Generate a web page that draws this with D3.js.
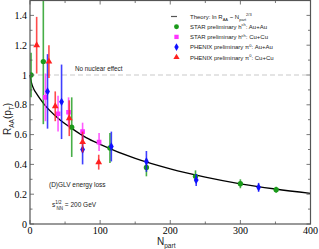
<!DOCTYPE html>
<html>
<head>
<meta charset="utf-8">
<script src="https://cdn.jsdelivr.net/npm/d3@7"></script>
<style>
  body { margin: 0; background: #fff; }
  svg { display: block; }
  .tick-label { font-family: 'Liberation Serif', 'DejaVu Serif', serif; font-size: 10px; fill: #000; }
  .lab { font-family: 'Liberation Sans', Arial, sans-serif; fill: #222; }
</style>
</head>
<body>
<script>
// theory curve: ln R_AA ~ N_part^(2/3)
var theoryN = [0, 2, 5, 10, 20, 40, 60, 80, 100, 150, 200, 250, 300, 350, 400]
var theoryR = [1.0, 0.95, 0.91, 0.87, 0.805, 0.71, 0.64, 0.58, 0.535, 0.44, 0.37, 0.315, 0.27, 0.235, 0.205]

var starAuN = [1.5, 19, 59.5, 114, 166, 236, 300, 351]
var starAuR = [1.0, 1.09, 0.65, 0.51, 0.38, 0.32, 0.27, 0.23]
var starAuE = [0.15, 0.42, 0.2, 0.1, 0.06, 0.04, 0.03, 0.02]

var starCuN = [22, 40, 55, 75, 98.5]
var starCuR = [0.85, 0.74, 0.75, 0.62, 0.55]
var starCuE = [0.16, 0.12, 0.1, 0.06, 0.06]

var phenixAuN = [25, 45, 75, 116, 166, 237, 326]
var phenixAuR = [0.89, 0.82, 0.50, 0.52, 0.42, 0.295, 0.246]
var phenixAuE = [0.25, 0.25, 0.1, 0.1, 0.07, 0.04, 0.03]

var phenixCuN = [9.5, 27, 36, 56, 75, 98]
var phenixCuR = [1.2, 1.09, 0.79, 0.71, 0.55, 0.415]
var phenixCuE = [0.19, 0.11, 0.1, 0.12, 0.07, 0.05]

var xTicks = [0, 100, 200, 300, 400]
var yTicks = [0, 0.2, 0.4, 0.6, 0.8, 1, 1.2, 1.4]

var W = 319
var H = 249
var x = d3.scaleLinear().domain([0, 400]).range([30, 310.5])
var y = d3.scaleLinear().domain([0, 1.5]).range([224, 0.5])

var svg = d3.select('body').append('svg').attr('width', W).attr('height', H)

// no nuclear effect reference line
svg.append('line')
  .attr('x1', x(0)).attr('x2', x(400))
  .attr('y1', y(1)).attr('y2', y(1))
  .style('stroke', '#bbb').style('stroke-width', 0.8)
  .style('stroke-dasharray', '5,3')

svg.append('rect')
  .attr('x', 73).attr('y', 63).attr('width', 62).attr('height', 9)
  .style('fill', '#fff')
svg.append('text').attr('class', 'lab')
  .attr('x', 75).attr('y', 71)
  .style('font-size', '6.3px')
  .text('No nuclear effect')

// theory
var line = d3.line()
  .x(function (d, i) { return x(theoryN[i]) })
  .y(function (d) { return y(d) })
  .curve(d3.curveMonotoneX)
svg.append('path')
  .attr('d', line(theoryR))
  .style('fill', 'none').style('stroke', '#000').style('stroke-width', 1.3)

var sets = [
  { n: starAuN, r: starAuR, e: starAuE, c: '#1a9a1a', sym: d3.symbolCircle, size: 22 },
  { n: starCuN, r: starCuR, e: starCuE, c: '#ff33ff', sym: d3.symbolSquare, size: 22 },
  { n: phenixAuN, r: phenixAuR, e: phenixAuE, c: '#1010ff', sym: d3.symbolDiamond, size: 20 },
  { n: phenixCuN, r: phenixCuR, e: phenixCuE, c: '#ff2020', sym: d3.symbolTriangle, size: 20 }
]

var clip = svg.append('clipPath').attr('id', 'plotclip')
clip.append('rect').attr('x', x(0)).attr('y', y(1.5)).attr('width', x(400) - x(0)).attr('height', y(0) - y(1.5))

sets.forEach(function (s) {
  var g = svg.append('g').attr('clip-path', 'url(#plotclip)')
  s.n.forEach(function (n, i) {
    g.append('line')
      .attr('x1', x(n)).attr('x2', x(n))
      .attr('y1', y(s.r[i] - s.e[i])).attr('y2', y(s.r[i] + s.e[i]))
      .style('stroke', s.c).style('stroke-width', 1.6).style('opacity', 0.8)
  })
  s.n.forEach(function (n, i) {
    g.append('path')
      .attr('d', d3.symbol().type(s.sym).size(s.size)())
      .attr('transform', 'translate(' + x(n) + ',' + y(s.r[i]) + ')')
      .style('fill', s.c)
  })
})

// frame
svg.append('rect')
  .attr('x', x(0)).attr('y', y(1.5))
  .attr('width', x(400) - x(0)).attr('height', y(0) - y(1.5))
  .style('fill', 'none').style('stroke', '#555').style('stroke-width', 1.2)

// ticks, inward on all sides
var xMinor = d3.range(50, 400, 100)
var yMinor = d3.range(0.1, 1.5, 0.2)
var tg = svg.append('g').style('stroke', '#555').style('stroke-width', 0.8)
xTicks.concat(xMinor).forEach(function (t) {
  var len = xTicks.indexOf(t) >= 0 ? 4 : 2.5
  tg.append('line').attr('x1', x(t)).attr('x2', x(t)).attr('y1', y(0)).attr('y2', y(0) - len)
  tg.append('line').attr('x1', x(t)).attr('x2', x(t)).attr('y1', y(1.5)).attr('y2', y(1.5) + len)
})
yTicks.concat(yMinor).forEach(function (t) {
  var len = yTicks.indexOf(t) >= 0 ? 4 : 2.5
  tg.append('line').attr('x1', x(0)).attr('x2', x(0) + len).attr('y1', y(t)).attr('y2', y(t))
  tg.append('line').attr('x1', x(400)).attr('x2', x(400) - len).attr('y1', y(t)).attr('y2', y(t))
})

svg.selectAll('.xt').data(xTicks).enter().append('text')
  .attr('class', 'tick-label')
  .attr('x', function (d) { return x(d) }).attr('y', 234)
  .attr('text-anchor', 'middle')
  .text(function (d) { return d })

svg.selectAll('.yt').data(yTicks).enter().append('text')
  .attr('class', 'tick-label')
  .attr('x', 27).attr('y', function (d) { return y(d) + 3.5 })
  .attr('text-anchor', 'end')
  .text(function (d) { return d })

// axis labels
var xl = svg.append('text').attr('class', 'lab')
  .attr('x', 157).attr('y', 245).style('font-size', '10px')
xl.append('tspan').text('N')
xl.append('tspan').attr('dy', 2.5).style('font-size', '6.5px').text('part')

var yl = svg.append('text').attr('class', 'lab')
  .attr('transform', 'translate(11,' + 135 + ') rotate(-90)')
  .style('font-size', '10px')
yl.append('tspan').text('R')
yl.append('tspan').attr('dy', 3).style('font-size', '6.5px').text('AA')
yl.append('tspan').attr('dy', -3).text('(p')
yl.append('tspan').attr('dy', 3).style('font-size', '6.5px').text('T')
yl.append('tspan').attr('dy', -3).text(')')

// annotations
svg.append('text').attr('class', 'lab')
  .attr('x', 49).attr('y', 187).style('font-size', '6.5px')
  .text('(D)GLV energy loss')
var sn = svg.append('text').attr('class', 'lab')
  .attr('x', 52).attr('y', 207).style('font-size', '6.5px')
sn.append('tspan').text('s')
sn.append('tspan').attr('dy', -3).style('font-size', '4.5px').text('1/2')
sn.append('tspan').attr('dy', 6).attr('dx', -5).style('font-size', '4.5px').text('NN')
sn.append('tspan').attr('dy', -3).text(' = 200 GeV')

// legend
var legend = [
  { t: 'STAR preliminary h', sup: 'ch', rest: ': Au+Au' },
  { t: 'STAR preliminary h', sup: 'ch', rest: ': Cu+Cu' },
  { t: 'PHENIX preliminary \u03c0', sup: '0', rest: ': Au+Au' },
  { t: 'PHENIX preliminary \u03c0', sup: '0', rest: ': Cu+Cu' }
]
var lg = svg.append('g')
lg.append('line').attr('x1', 171).attr('x2', 177).attr('y1', 16.5).attr('y2', 16.5)
  .style('stroke', '#555').style('stroke-width', 1.2)
var th = lg.append('text').attr('class', 'lab').attr('x', 190).attr('y', 19).style('font-size', '6px')
th.append('tspan').text('Theory: ln R')
th.append('tspan').attr('dy', 1.5).style('font-size', '4px').text('AA')
th.append('tspan').attr('dy', -1.5).text(' ~ N')
th.append('tspan').attr('dy', 1.5).style('font-size', '4px').text('part')
th.append('tspan').attr('dy', -5).style('font-size', '4px').text('2/3')

legend.forEach(function (d, i) {
  var yy = 26.7 + i * 10.2
  lg.append('path')
    .attr('d', d3.symbol().type(sets[i].sym).size(sets[i].size * 0.85)())
    .attr('transform', 'translate(176.5,' + yy + ')')
    .style('fill', sets[i].c)
  var t = lg.append('text').attr('class', 'lab').attr('x', 190).attr('y', yy + 2.2).style('font-size', '6px')
  t.append('tspan').text(d.t)
  t.append('tspan').attr('dy', -2.5).style('font-size', '4px').text(d.sup)
  t.append('tspan').attr('dy', 2.5).text(d.rest)
})
</script>
</body>
</html>
